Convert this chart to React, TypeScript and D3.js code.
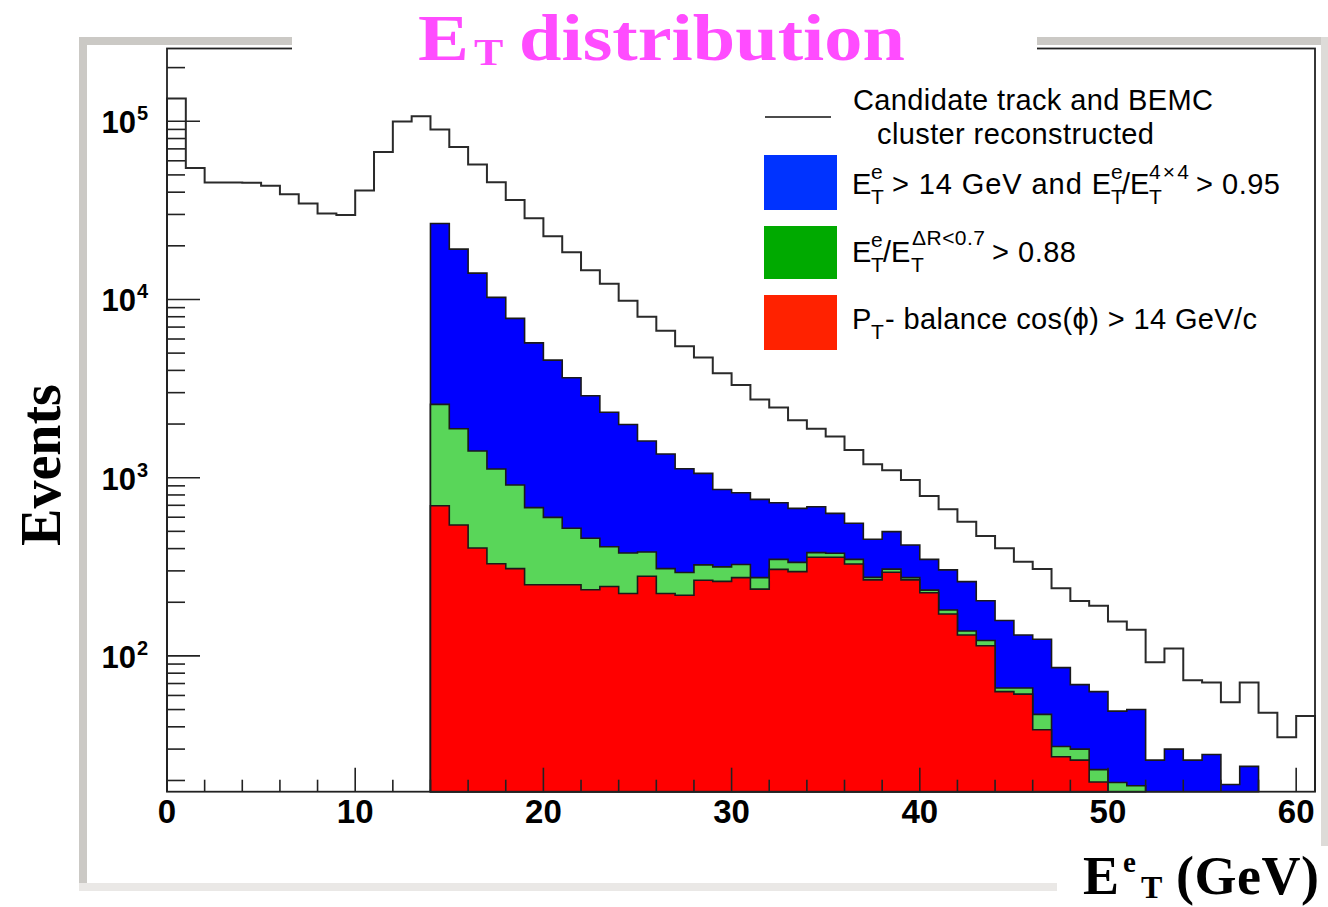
import React from "react";
import * as d3 from "d3";

// E_T histograms, 1 GeV bins. Counts.
const candidateStart = 0;
const candidateCounts = [
  134000, 54700, 45300, 45300, 45200, 43400, 39000, 34600, 30400, 29800,
  40900, 67300, 99600, 106700, 89900, 71800, 57200, 45500, 36100, 28600,
  22650, 18430, 14600, 12240, 9830, 7990, 6670, 5470, 4730, 3850,
  3310, 2750, 2480, 2100, 1880, 1700, 1430, 1190, 1100, 970,
  789, 665, 566, 471, 402, 337, 307, 240, 203, 191,
  156, 140, 92, 110, 73, 71, 55, 71, 48, 35, 46,
];

const cutStart = 14;
// E_T^e > 14 GeV and E_T^e/E_T^4x4 > 0.95
const electronCounts = [
  26700, 19160, 14050, 10270, 7830, 5710, 4570, 3635, 2880, 2330,
  1990, 1606, 1357, 1123, 1058, 858, 823, 756, 724, 673,
  687, 631, 555, 451, 498, 419, 348, 304, 261, 204,
  158, 131, 124, 86, 69, 63, 49, 50, 26, 30, 26, 28, 19, 24,
];
// E_T^e/E_T^(dR<0.7) > 0.88
const isolationCounts = [
  2578, 1882, 1411, 1118, 910, 679, 599, 520, 457, 410,
  378, 383, 309, 294, 324, 316, 326, 275, 348, 335,
  380, 377, 348, 276, 307, 275, 234, 181, 138, 122,
  66, 66, 47, 31, 30, 23, 19.5, 18.7,
];
// P_T-balance cos(phi) > 14 GeV/c
const balanceCounts = [
  696, 543, 403, 329, 309, 251, 251, 251, 235, 245,
  224, 280, 224, 219, 266, 262, 275, 237, 306, 297,
  358, 358, 328, 267, 295, 267, 226, 172, 131, 114,
  63, 61, 38.5, 27.2, 26, 19.6,
];

const xDomain: [number, number] = [0, 61];
const yDomain: [number, number] = [17.3, 2.56e5];

const W = 1328;
const H = 907;
const margin = { left: 167, right: 13, top: 48.5, bottom: 115.3 };

const SANS = "'Liberation Sans', Arial, Helvetica, sans-serif";
const SERIF = "'Liberation Serif', 'Times New Roman', serif";

const BLUE = "#0000ff";
const GREEN = "#59d659";
const RED = "#ff0000";

type Bin = [number, number];

// bin edges + value, with a closing point at the last upper edge
const toSteps = (start: number, counts: number[]): Bin[] => {
  const pts: Bin[] = counts.map((c, i) => [start + i, c]);
  pts.push([start + counts.length, counts[counts.length - 1]]);
  return pts;
};

export default function App() {
  const x = d3.scaleLinear().domain(xDomain).range([margin.left, W - margin.right]);
  const y = d3.scaleLog().domain(yDomain).range([H - margin.bottom, margin.top]);
  const yMin = yDomain[0];
  const yv = (v: number) => y(Math.max(v, yMin));

  const area = d3.area<Bin>()
    .x(d => x(d[0]))
    .y0(y(yMin))
    .y1(d => yv(d[1]))
    .curve(d3.curveStepAfter);

  const line = d3.line<Bin>()
    .x(d => x(d[0]))
    .y(d => yv(d[1]))
    .curve(d3.curveStepAfter);

  const candPts: Bin[] = [
    [candidateStart, yMin],
    ...toSteps(candidateStart, candidateCounts),
    [candidateStart + candidateCounts.length, yMin],
  ];

  const filled = [
    { counts: electronCounts, color: BLUE },
    { counts: isolationCounts, color: GREEN },
    { counts: balanceCounts, color: RED },
  ];

  const yTicks = y.ticks();
  const isDecade = (t: number) => Math.abs(Math.log10(t) - Math.round(Math.log10(t))) < 1e-6;
  const xTicks = x.ticks(30);

  const x0 = x(xDomain[0]);
  const x1 = x(xDomain[1]);
  const yB = y(yDomain[0]);
  const yT = y(yDomain[1]);

  const sub = 21;
  const lg = 29;

  return (
    <svg width={W} height={H} style={{ position: "absolute", left: 0, top: 0, background: "#fff" }}>
      <rect x={0} y={0} width={W} height={H} fill="#ffffff" />

      {/* canvas bevel */}
      <rect x={79} y={37} width={8} height={854} fill="#cbc9c5" />
      <rect x={79} y={37} width={213} height={8} fill="#cbc9c5" />
      <rect x={1037} y={37} width={291} height={8} fill="#cbc9c5" />
      <rect x={1321} y={37} width={7} height={810} fill="#dddbd8" />
      <rect x={79} y={883} width={978} height={8} fill="#eae8e6" />

      {/* all candidates */}
      <path d={line(candPts) ?? ""} fill="none" stroke="#2a2a2a" strokeWidth={2} />

      {/* stacked cut histograms */}
      {filled.map((h, i) => (
        <path
          key={i}
          d={area(toSteps(cutStart, h.counts)) ?? ""}
          fill={h.color}
          stroke="#1a1a1a"
          strokeWidth={1.6}
          strokeLinejoin="miter"
        />
      ))}

      {/* frame */}
      <rect x={x0} y={yT} width={x1 - x0} height={yB - yT} fill="none" stroke="#222" strokeWidth={1.8} />

      {/* y ticks */}
      {yTicks.map((t, i) => (
        <line
          key={i}
          x1={x0}
          x2={x0 + (isDecade(t) ? 33 : 18)}
          y1={y(t)}
          y2={y(t)}
          stroke="#222"
          strokeWidth={1.6}
        />
      ))}
      {yTicks.filter(isDecade).map((t, i) => (
        <g key={i} fontFamily={SANS} fontWeight="bold" fill="#000">
          <text x={136} y={y(t) + 12} fontSize={31} textAnchor="end">10</text>
          <text x={137} y={y(t) - 1} fontSize={20}>{Math.round(Math.log10(t))}</text>
        </g>
      ))}

      {/* x ticks */}
      {xTicks.map((t, i) => (
        <line
          key={i}
          x1={x(t)}
          x2={x(t)}
          y1={yB}
          y2={yB - (t % 10 === 0 ? 24 : 12)}
          stroke="#222"
          strokeWidth={1.6}
        />
      ))}
      {xTicks.filter(t => t % 10 === 0).map((t, i) => (
        <text key={i} x={x(t)} y={823} fontSize={33} fontFamily={SANS} fontWeight="bold" textAnchor="middle">
          {t}
        </text>
      ))}

      {/* legend */}
      <g fontFamily={SANS} fill="#000">
        <line x1={765} x2={831} y1={117} y2={117} stroke="#111" strokeWidth={1.6} />
        <text x={853} y={110} fontSize={lg} textLength={360}>Candidate track and BEMC</text>
        <text x={877} y={144} fontSize={lg} textLength={277}>cluster reconstructed</text>

        <rect x={764} y={155} width={73} height={55} fill="#0033ff" />
        <text x={852} y={194} fontSize={lg}>E</text>
        <text x={871} y={179} fontSize={sub}>e</text>
        <text x={871} y={204} fontSize={sub}>T</text>
        <text x={892} y={194} fontSize={lg} textLength={219}>{"> 14 GeV and E"}</text>
        <text x={1111} y={179} fontSize={sub}>e</text>
        <text x={1111} y={204} fontSize={sub}>T</text>
        <text x={1122} y={194} fontSize={lg}>/E</text>
        <text x={1149} y={179} fontSize={sub} textLength={40}>4×4</text>
        <text x={1149} y={204} fontSize={sub}>T</text>
        <text x={1196} y={194} fontSize={lg} textLength={84}>{"> 0.95"}</text>

        <rect x={764} y={226} width={73} height={53} fill="#00aa00" />
        <text x={852} y={262} fontSize={lg}>E</text>
        <text x={871} y={247} fontSize={sub}>e</text>
        <text x={871} y={272} fontSize={sub}>T</text>
        <text x={883} y={262} fontSize={lg}>/E</text>
        <text x={912} y={245} fontSize={sub} textLength={73}>ΔR&lt;0.7</text>
        <text x={911} y={272} fontSize={sub}>T</text>
        <text x={992} y={262} fontSize={lg} textLength={84}>{"> 0.88"}</text>

        <rect x={764} y={295} width={73} height={55} fill="#ff2200" />
        <text x={852} y={329} fontSize={lg}>P</text>
        <text x={871} y={339} fontSize={sub}>T</text>
        <text x={885} y={329} fontSize={lg} textLength={372}>{"- balance cos(ϕ) > 14 GeV/c"}</text>
      </g>

      {/* title box */}
      <rect x={292} y={0} width={745} height={51} fill="#fff" />
      <g transform="translate(418,60) scale(1.156,1)" fontFamily={SERIF} fontWeight="bold" fill="#ff4cff">
        <text x={0} y={0} fontSize={66}>E</text>
        <text x={48.4} y={5} fontSize={38}>T</text>
        <text x={87.4} y={0} fontSize={66}>distribution</text>
      </g>

      {/* axis titles */}
      <text
        transform="translate(60,465) rotate(-90)"
        textAnchor="middle"
        fontFamily={SERIF}
        fontWeight="bold"
        fontSize={56}
      >
        Events
      </text>

      <rect x={1057} y={846} width={271} height={61} fill="#fff" />
      <g fontFamily={SERIF} fontWeight="bold" fill="#000">
        <text x={1083} y={894} fontSize={54}>E</text>
        <text x={1123} y={872} fontSize={29}>e</text>
        <text x={1141} y={898} fontSize={32}>T</text>
        <text x={1176} y={894} fontSize={54} textLength={143}>(GeV)</text>
      </g>
    </svg>
  );
}
